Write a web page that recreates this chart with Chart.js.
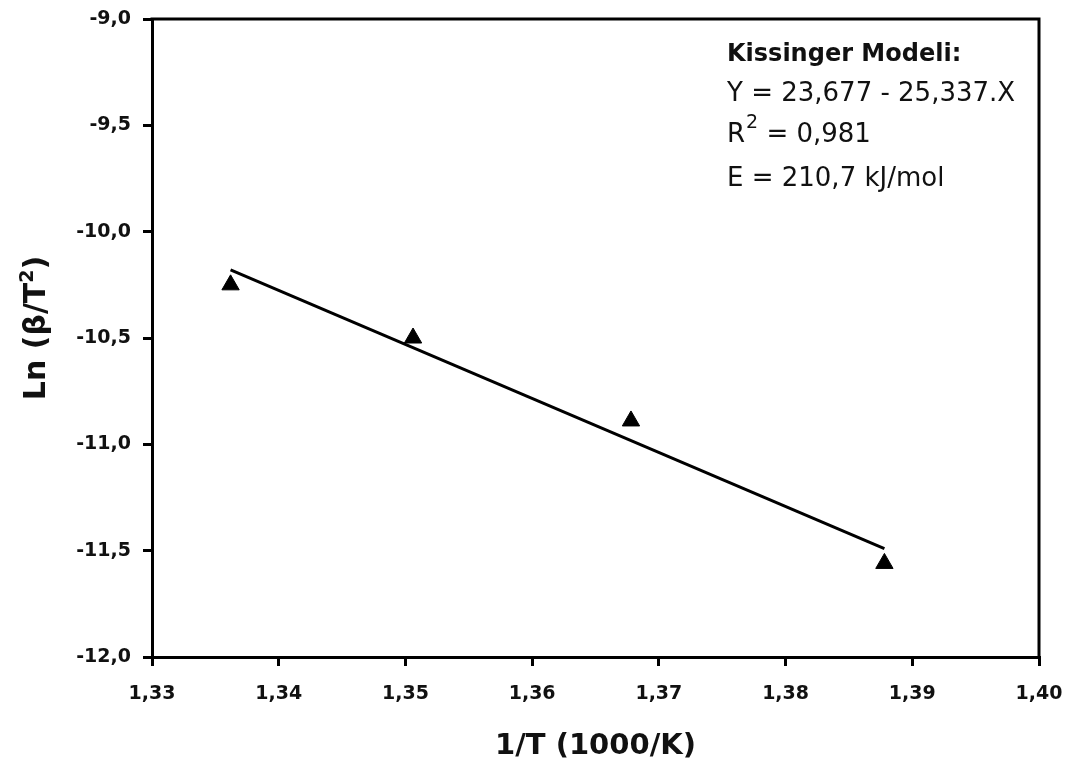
<!DOCTYPE html>
<html>
<head>
<meta charset="utf-8">
<script src="https://cdn.jsdelivr.net/npm/chart.js@4/dist/chart.umd.min.js"></script>
<style>
  html, body { margin: 0; padding: 0; background: #fff; }
  #wrap { width: 1073px; height: 771px; }
</style>
</head>
<body>
<div id="wrap"><canvas id="c" width="1073" height="771"></canvas></div>
<script>
// ---- data ----
const pointX = [1.3362, 1.3506, 1.3678, 1.3878];
const pointY = [-10.25, -10.50, -10.89, -11.56];
const fitX = [1.3362, 1.3878];
const fitY = [-10.18, -11.49];
const xTickValues = [1.33, 1.34, 1.35, 1.36, 1.37, 1.38, 1.39, 1.40];
const xTickLabels = ['1,33', '1,34', '1,35', '1,36', '1,37', '1,38', '1,39', '1,40'];
const yTickValues = [-12.0, -11.5, -11.0, -10.5, -10.0, -9.5, -9.0];
const yTickLabels = ['-12,0', '-11,5', '-11,0', '-10,5', '-10,0', '-9,5', '-9,0'];
const xTitle = '1/T (1000/K)';
const yTitleMain = 'Ln (β/T';
const yTitleSup = '2';
const yTitleEnd = ')';
const noteTitle = 'Kissinger Modeli:';
const noteEquation = 'Y = 23,677 - 25,337.X';
const noteR2Value = ' = 0,981';
const noteEnergy = 'E = 210,7 kJ/mol';

const FONT = 'DejaVu Sans';
const INK = '#111111';

function labelFor(values, labels, v) {
  for (let i = 0; i < values.length; i++) {
    if (Math.abs(values[i] - v) < 1e-6) return labels[i];
  }
  return '';
}

const framePlugin = {
  id: 'frame',
  afterDatasetsDraw(chart) {
    const ctx = chart.ctx;
    const a = chart.chartArea;
    ctx.save();
    ctx.strokeStyle = '#000';
    ctx.lineWidth = 3;
    ctx.lineCap = 'square';
    ctx.beginPath();
    ctx.moveTo(a.left, a.top);
    ctx.lineTo(a.right, a.top);
    ctx.lineTo(a.right, a.bottom);
    ctx.stroke();
    ctx.restore();
  }
};

const notePlugin = {
  id: 'note',
  afterDraw(chart) {
    const ctx = chart.ctx;
    const x0 = 727;
    ctx.save();
    ctx.fillStyle = INK;
    ctx.textAlign = 'left';
    ctx.textBaseline = 'alphabetic';
    ctx.font = 'bold 24px "' + FONT + '"';
    ctx.fillText(noteTitle, x0, 61);
    ctx.font = '26px "' + FONT + '"';
    ctx.fillText(noteEquation, x0, 101);
    ctx.fillText('R', x0, 142);
    const rw = ctx.measureText('R').width;
    ctx.font = '19px "' + FONT + '"';
    ctx.fillText('2', x0 + rw + 1, 128);
    const sw = ctx.measureText('2').width;
    ctx.font = '26px "' + FONT + '"';
    ctx.fillText(noteR2Value, x0 + rw + sw + 1, 142);
    ctx.fillText(noteEnergy, x0, 186);

    // y-axis title with a real superscript, rotated
    const bigF = 'bold 30px "' + FONT + '"';
    const supF = 'bold 19px "' + FONT + '"';
    ctx.font = bigF;
    const w1 = ctx.measureText(yTitleMain).width;
    const w3 = ctx.measureText(yTitleEnd).width;
    ctx.font = supF;
    const w2 = ctx.measureText(yTitleSup).width;
    const total = w1 + w2 + w3;
    const cy = 328;
    const cx = 45;
    ctx.translate(cx, cy);
    ctx.rotate(-Math.PI / 2);
    let px = -total / 2;
    ctx.font = bigF;
    ctx.fillText(yTitleMain, px, 0);
    px += w1;
    ctx.font = supF;
    ctx.fillText(yTitleSup, px, -12);
    px += w2;
    ctx.font = bigF;
    ctx.fillText(yTitleEnd, px, 0);
    ctx.restore();
  }
};

const tickFont = { family: FONT, size: 19, weight: 'bold' };
const titleFont = { family: FONT, size: 29, weight: 'bold' };

new Chart(document.getElementById('c'), {
  type: 'scatter',
  data: {
    datasets: [
      {
        label: 'points',
        data: pointX.map((x, i) => ({ x: x, y: pointY[i] })),
        pointStyle: 'triangle',
        pointRadius: 10,
        pointBackgroundColor: '#000',
        pointBorderColor: '#000',
        pointBorderWidth: 1,
        showLine: false
      },
      {
        label: 'fit',
        data: fitX.map((x, i) => ({ x: x, y: fitY[i] })),
        showLine: true,
        borderColor: '#000',
        borderWidth: 3,
        pointRadius: 0,
        fill: false
      }
    ]
  },
  options: {
    responsive: false,
    animation: false,
    devicePixelRatio: 1,
    layout: { padding: { top: 19, right: 34, left: 0, bottom: 0 } },
    plugins: {
      legend: { display: false },
      tooltip: { enabled: false },
      title: { display: false }
    },
    scales: {
      x: {
        type: 'linear',
        position: 'bottom',
        min: 1.33,
        max: 1.40,
        afterBuildTicks: (s) => { s.ticks = xTickValues.map(v => ({ value: v })); },
        afterFit: (s) => { s.height = 114; s.paddingLeft = 0; s.paddingRight = 0; },
        ticks: {
          font: tickFont,
          color: INK,
          padding: 17,
          maxRotation: 0,
          callback: (v) => labelFor(xTickValues, xTickLabels, v)
        },
        grid: { display: true, drawOnChartArea: false, drawTicks: true, tickLength: 9, color: '#000', lineWidth: 3 },
        border: { display: true, color: '#000', width: 3 },
        title: { display: true, text: xTitle, font: titleFont, color: INK, padding: { top: 0, bottom: 7 } }
      },
      y: {
        type: 'linear',
        position: 'left',
        min: -12,
        max: -9,
        afterBuildTicks: (s) => { s.ticks = yTickValues.map(v => ({ value: v })); },
        afterFit: (s) => { s.width = 152; s.paddingTop = 0; s.paddingBottom = 0; },
        ticks: {
          font: tickFont,
          color: INK,
          padding: 12,
          callback: (v) => labelFor(yTickValues, yTickLabels, v)
        },
        grid: { display: true, drawOnChartArea: false, drawTicks: true, tickLength: 9, color: '#000', lineWidth: 3 },
        border: { display: true, color: '#000', width: 3 },
        title: { display: false }
      }
    }
  },
  plugins: [framePlugin, notePlugin]
});
</script>
</body>
</html>
